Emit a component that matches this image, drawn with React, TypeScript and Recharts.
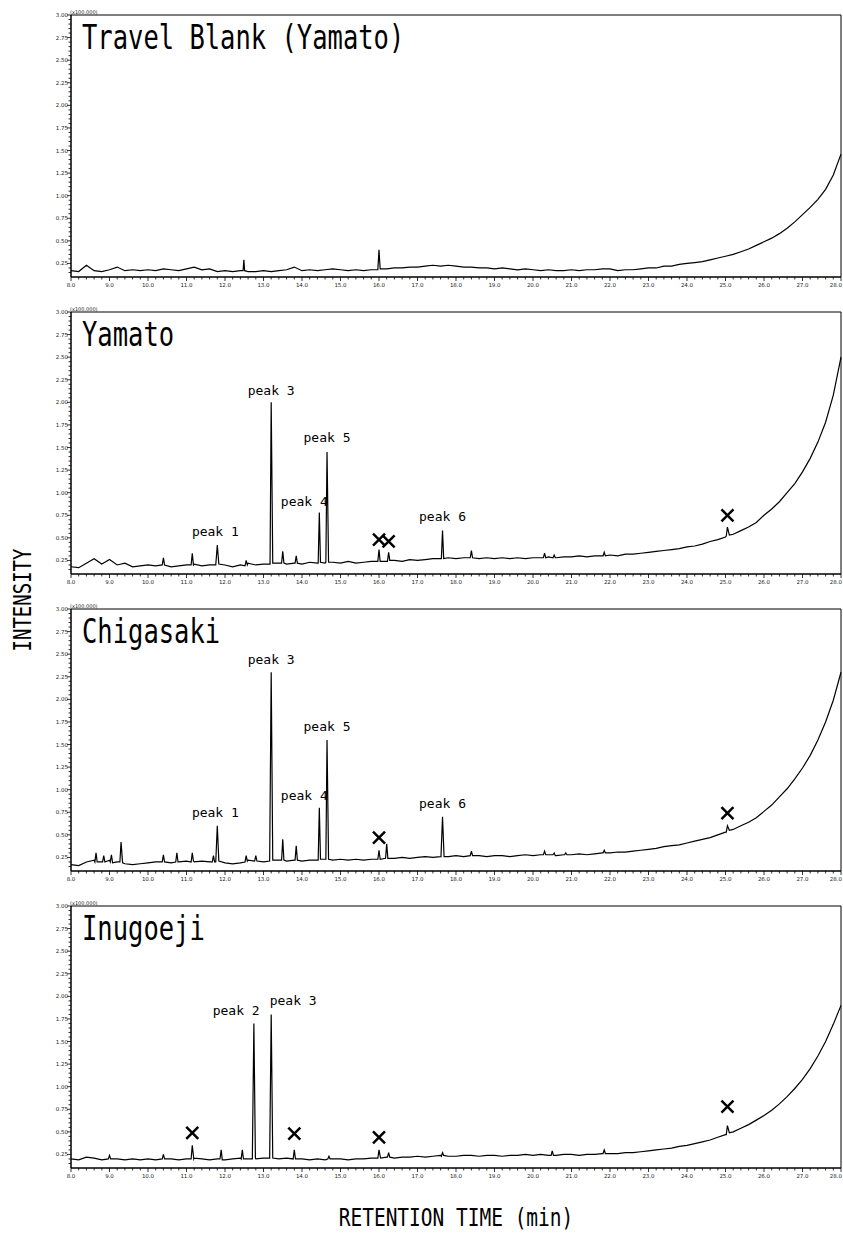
import React from 'react';
import { LineChart, Line, XAxis, YAxis, ReferenceArea, ReferenceDot } from 'recharts';

type Pt = [number, number];

// baselines are read every 0.2 min starting at 8.0 min
const RT_START = 8;
const RT_STEP = 0.2;

const X_MAJOR = [8, 9, 10, 11, 12, 13, 14, 15, 16, 17, 18, 19, 20, 21, 22, 23, 24, 25, 26, 27, 28];
const Y_MAJOR = [0.25, 0.5, 0.75, 1, 1.25, 1.5, 1.75, 2, 2.25, 2.5, 2.75, 3];

const PANEL_TITLES = ['Travel Blank (Yamato)', 'Yamato', 'Chigasaki', 'Inugoeji'];

// intensity (x100,000)
const BLANK_BASE = [
  0.17, 0.16, 0.23, 0.17, 0.16, 0.18, 0.21, 0.17, 0.18, 0.17,
  0.18, 0.17, 0.19, 0.18, 0.17, 0.19, 0.21, 0.18, 0.19, 0.16,
  0.17, 0.16, 0.17, 0.16, 0.16, 0.17, 0.16, 0.17, 0.18, 0.21,
  0.17, 0.18, 0.17, 0.18, 0.19, 0.18, 0.17, 0.18, 0.17, 0.18,
  0.18, 0.19, 0.2, 0.2, 0.21, 0.21, 0.22, 0.23, 0.22, 0.23,
  0.22, 0.21, 0.21, 0.2, 0.2, 0.19, 0.2, 0.19, 0.18, 0.19,
  0.18, 0.17, 0.18, 0.17, 0.17, 0.18, 0.17, 0.18, 0.18, 0.19,
  0.19, 0.17, 0.18, 0.18, 0.19, 0.2, 0.2, 0.22, 0.22, 0.24,
  0.25, 0.26, 0.27, 0.29, 0.31, 0.33, 0.35, 0.38, 0.41, 0.45,
  0.49, 0.53, 0.58, 0.64, 0.71, 0.79, 0.87, 0.96, 1.07, 1.23, 1.46,
];
const BLANK_PEAKS: Pt[][] = [
  [[12.47, 0.17], [12.49, 0.29], [12.51, 0.17]],
  [[15.97, 0.18], [16.0, 0.4], [16.03, 0.19]],
];

const YAMATO_BASE = [
  0.18, 0.17, 0.22, 0.27, 0.21, 0.26, 0.2, 0.22, 0.18, 0.19,
  0.2, 0.19, 0.2, 0.18, 0.19, 0.2, 0.21, 0.19, 0.2, 0.19,
  0.2, 0.18, 0.2, 0.22, 0.2, 0.21, 0.2, 0.22, 0.21, 0.22,
  0.21, 0.23, 0.22, 0.22, 0.23, 0.22, 0.24, 0.22, 0.23, 0.24,
  0.24, 0.24, 0.25, 0.24, 0.26, 0.25, 0.26, 0.27, 0.27, 0.28,
  0.27, 0.28, 0.29, 0.27, 0.28, 0.27, 0.28, 0.27, 0.28, 0.27,
  0.28, 0.28, 0.29, 0.28, 0.29, 0.29, 0.3, 0.29, 0.3, 0.3,
  0.31, 0.3, 0.32, 0.32, 0.33, 0.34, 0.35, 0.36, 0.37, 0.38,
  0.4, 0.41, 0.43, 0.46, 0.48, 0.51, 0.54, 0.58, 0.62, 0.67,
  0.75, 0.82, 0.9, 1.0, 1.1, 1.23, 1.38, 1.56, 1.78, 2.08, 2.5,
];
const YAMATO_PEAKS: Pt[][] = [
  [[10.37, 0.2], [10.4, 0.28], [10.43, 0.2]],
  [[11.12, 0.2], [11.15, 0.33], [11.18, 0.2]],
  [[11.76, 0.2], [11.8, 0.42], [11.84, 0.21]],
  [[12.52, 0.19], [12.55, 0.25], [12.58, 0.2]],
  [[13.17, 0.21], [13.2, 2.0], [13.24, 0.22]],
  [[13.47, 0.22], [13.5, 0.35], [13.53, 0.22]],
  [[13.82, 0.22], [13.85, 0.3], [13.88, 0.22]],
  [[14.42, 0.22], [14.45, 0.78], [14.48, 0.23]],
  [[14.62, 0.23], [14.65, 1.45], [14.69, 0.23]],
  [[15.97, 0.24], [16.0, 0.37], [16.03, 0.24]],
  [[16.22, 0.24], [16.25, 0.34], [16.28, 0.25]],
  [[17.62, 0.27], [17.65, 0.58], [17.68, 0.27]],
  [[18.37, 0.28], [18.4, 0.36], [18.43, 0.28]],
  [[20.27, 0.28], [20.3, 0.33], [20.33, 0.28]],
  [[20.52, 0.28], [20.55, 0.31], [20.58, 0.28]],
  [[21.82, 0.3], [21.85, 0.34], [21.88, 0.3]],
  [[25.02, 0.52], [25.05, 0.62], [25.1, 0.53]],
];

const CHIGASAKI_BASE = [
  0.17, 0.16, 0.2, 0.22, 0.2, 0.22, 0.2, 0.18, 0.17, 0.18,
  0.19, 0.2, 0.21, 0.19, 0.2, 0.21, 0.2, 0.21, 0.2, 0.2,
  0.19, 0.18, 0.19, 0.22, 0.21, 0.2, 0.21, 0.22, 0.21, 0.22,
  0.21, 0.22, 0.22, 0.23, 0.22, 0.23, 0.22, 0.23, 0.22, 0.23,
  0.23, 0.24, 0.24, 0.25, 0.24, 0.25, 0.26, 0.25, 0.26, 0.26,
  0.27, 0.26, 0.27, 0.27, 0.26, 0.27, 0.27, 0.26, 0.27, 0.28,
  0.27, 0.28, 0.28, 0.27, 0.28, 0.28, 0.29, 0.28, 0.29, 0.3,
  0.3, 0.31, 0.31, 0.32, 0.33, 0.34, 0.35, 0.37, 0.38, 0.39,
  0.41, 0.43, 0.45, 0.47, 0.5, 0.53, 0.56, 0.6, 0.64, 0.69,
  0.76, 0.83, 0.92, 1.01, 1.12, 1.24, 1.38, 1.55, 1.75, 1.99, 2.3,
];
const CHIGASAKI_PEAKS: Pt[][] = [
  [[8.62, 0.2], [8.65, 0.3], [8.68, 0.2]],
  [[8.82, 0.2], [8.85, 0.27], [8.88, 0.2]],
  [[9.02, 0.2], [9.05, 0.28], [9.08, 0.19]],
  [[9.27, 0.2], [9.3, 0.42], [9.34, 0.19]],
  [[10.37, 0.2], [10.4, 0.28], [10.43, 0.2]],
  [[10.72, 0.2], [10.75, 0.3], [10.78, 0.2]],
  [[11.12, 0.2], [11.15, 0.3], [11.18, 0.21]],
  [[11.67, 0.2], [11.7, 0.27], [11.73, 0.2]],
  [[11.76, 0.2], [11.8, 0.6], [11.84, 0.21]],
  [[12.52, 0.2], [12.55, 0.27], [12.58, 0.21]],
  [[12.77, 0.21], [12.8, 0.27], [12.83, 0.21]],
  [[13.16, 0.21], [13.2, 2.3], [13.24, 0.22]],
  [[13.47, 0.22], [13.5, 0.45], [13.53, 0.22]],
  [[13.82, 0.22], [13.85, 0.38], [13.88, 0.22]],
  [[14.42, 0.22], [14.45, 0.8], [14.48, 0.23]],
  [[14.62, 0.23], [14.65, 1.55], [14.69, 0.23]],
  [[15.97, 0.23], [16.0, 0.33], [16.03, 0.23]],
  [[16.17, 0.24], [16.2, 0.4], [16.23, 0.24]],
  [[17.61, 0.26], [17.65, 0.7], [17.69, 0.26]],
  [[18.37, 0.27], [18.4, 0.32], [18.43, 0.27]],
  [[20.27, 0.28], [20.3, 0.32], [20.33, 0.28]],
  [[20.52, 0.28], [20.55, 0.3], [20.58, 0.27]],
  [[20.82, 0.28], [20.85, 0.3], [20.88, 0.28]],
  [[21.82, 0.3], [21.85, 0.33], [21.88, 0.3]],
  [[25.02, 0.53], [25.05, 0.6], [25.1, 0.55]],
];

const INUGOEJI_BASE = [
  0.2, 0.19, 0.22, 0.21, 0.19, 0.22, 0.2, 0.19, 0.2, 0.19,
  0.2, 0.19, 0.21, 0.2, 0.19, 0.2, 0.21, 0.2, 0.19, 0.2,
  0.19, 0.2, 0.21, 0.2, 0.2, 0.21, 0.2, 0.2, 0.21, 0.2,
  0.2, 0.19, 0.2, 0.19, 0.2, 0.2, 0.19, 0.2, 0.2, 0.21,
  0.21, 0.22, 0.21, 0.22, 0.22, 0.23, 0.22, 0.23, 0.24, 0.23,
  0.23, 0.24, 0.24, 0.23, 0.24, 0.24, 0.23, 0.24, 0.24, 0.25,
  0.24, 0.25, 0.24, 0.24, 0.25, 0.25, 0.24, 0.25, 0.25, 0.26,
  0.26, 0.26, 0.27, 0.27, 0.28, 0.29, 0.3, 0.31, 0.32, 0.34,
  0.35, 0.37, 0.39, 0.41, 0.44, 0.47, 0.5, 0.54, 0.58, 0.63,
  0.68, 0.74, 0.81, 0.89, 0.98, 1.08, 1.2, 1.34, 1.5, 1.69, 1.9,
];
const INUGOEJI_PEAKS: Pt[][] = [
  [[8.97, 0.2], [9.0, 0.24], [9.03, 0.2]],
  [[10.37, 0.2], [10.4, 0.25], [10.43, 0.2]],
  [[11.12, 0.2], [11.15, 0.35], [11.19, 0.2]],
  [[11.87, 0.2], [11.9, 0.3], [11.93, 0.19]],
  [[12.42, 0.2], [12.45, 0.3], [12.48, 0.2]],
  [[12.71, 0.2], [12.75, 1.7], [12.79, 0.21]],
  [[13.16, 0.21], [13.2, 1.8], [13.24, 0.21]],
  [[13.77, 0.2], [13.8, 0.3], [13.83, 0.2]],
  [[14.67, 0.2], [14.7, 0.23], [14.73, 0.2]],
  [[15.97, 0.21], [16.0, 0.3], [16.04, 0.21]],
  [[16.22, 0.22], [16.25, 0.27], [16.28, 0.22]],
  [[17.62, 0.23], [17.65, 0.27], [17.68, 0.24]],
  [[20.47, 0.24], [20.5, 0.29], [20.53, 0.24]],
  [[21.82, 0.26], [21.85, 0.3], [21.88, 0.26]],
  [[25.02, 0.47], [25.05, 0.57], [25.1, 0.49]],
];

// peak names: [label, time of label centre, intensity of label centre]
const YAMATO_LABELS: [string, number, number][] = [
  ['peak 1', 11.75, 0.56],
  ['peak 3', 13.2, 2.13],
  ['peak 4', 14.06, 0.9],
  ['peak 5', 14.65, 1.6],
  ['peak 6', 17.65, 0.73],
];
const CHIGASAKI_LABELS: [string, number, number][] = [
  ['peak 1', 11.75, 0.74],
  ['peak 3', 13.2, 2.43],
  ['peak 4', 14.06, 0.93],
  ['peak 5', 14.65, 1.69],
  ['peak 6', 17.65, 0.84],
];
const INUGOEJI_LABELS: [string, number, number][] = [
  ['peak 2', 12.29, 1.84],
  ['peak 3', 13.77, 1.95],
];

// asterisk marks (x) over contaminant peaks
const YAMATO_MARKS: Pt[] = [[16.0, 0.48], [16.25, 0.46], [25.05, 0.75]];
const CHIGASAKI_MARKS: Pt[] = [[16.0, 0.47], [25.05, 0.74]];
const INUGOEJI_MARKS: Pt[] = [[11.15, 0.49], [13.8, 0.48], [16.0, 0.44], [25.05, 0.78]];

const X_TICKS = Array.from({ length: 101 }, (_, i) => Math.round((8 + 0.2 * i) * 10) / 10);
const Y_TICKS = Array.from({ length: 58 }, (_, i) => Math.round((0.15 + 0.05 * i) * 100) / 100);

const buildSeries = (base: number[], peaks: Pt[][]) => {
  const pts: Pt[] = [];
  base.forEach((v, i) => {
    const t = Math.round((RT_START + RT_STEP * i) * 10) / 10;
    const inPeak = peaks.some(p => t >= p[0][0] && t <= p[p.length - 1][0]);
    if (!inPeak) pts.push([t, v]);
  });
  peaks.forEach(p => pts.push(...p));
  pts.sort((a, b) => a[0] - b[0]);
  return pts.map(([t, v]) => ({ t, v }));
};

const PANELS = [
  { data: buildSeries(BLANK_BASE, BLANK_PEAKS), labels: [], marks: [] },
  { data: buildSeries(YAMATO_BASE, YAMATO_PEAKS), labels: YAMATO_LABELS, marks: YAMATO_MARKS },
  { data: buildSeries(CHIGASAKI_BASE, CHIGASAKI_PEAKS), labels: CHIGASAKI_LABELS, marks: CHIGASAKI_MARKS },
  { data: buildSeries(INUGOEJI_BASE, INUGOEJI_PEAKS), labels: INUGOEJI_LABELS, marks: INUGOEJI_MARKS },
];

const PLOT_TOP = 15;
const PANEL_STEP = 297;
const MONO = '"DejaVu Sans Mono", monospace';
const SANS = '"DejaVu Sans", sans-serif';

const XTick = (props: any) => {
  const { x, y, payload } = props;
  const v = payload.value as number;
  const major = X_MAJOR.includes(v);
  const last = v === X_MAJOR[X_MAJOR.length - 1];
  return (
    <g>
      <line x1={x} x2={x} y1={y} y2={y + (major ? 4 : 2.5)} stroke="#000" strokeWidth={0.8} />
      {major && (
        <text x={last ? x + 1 : x} y={y + 10} textAnchor={last ? 'end' : 'middle'} fontSize={5.5} fontFamily={SANS} fill="#222">
          {v.toFixed(1)}
        </text>
      )}
    </g>
  );
};

const YTick = (props: any) => {
  const { x, y, payload } = props;
  const v = payload.value as number;
  const major = Y_MAJOR.some(m => Math.abs(m - v) < 1e-6);
  return (
    <g>
      <line x1={x} x2={x - (major ? 4 : 2.5)} y1={y} y2={y} stroke="#000" strokeWidth={0.8} />
      {major && (
        <text x={x - 3} y={y + 2} textAnchor="end" fontSize={5.5} fontFamily={SANS} fill="#222">
          {v.toFixed(2)}
        </text>
      )}
    </g>
  );
};

const XMark = (props: any) => {
  const { cx, cy } = props;
  const s = 6;
  return (
    <g stroke="#000" strokeWidth={2.5}>
      <line x1={cx - s} y1={cy - s} x2={cx + s} y2={cy + s} />
      <line x1={cx - s} y1={cy + s} x2={cx + s} y2={cy - s} />
    </g>
  );
};

function Panel({ index }: { index: number }) {
  const p = PANELS[index];
  return (
    <div style={{ position: 'absolute', left: 0, top: index * PANEL_STEP, width: 843, height: 290 }}>
      <LineChart width={843} height={290} data={p.data} margin={{ top: PLOT_TOP, right: 2, bottom: 0, left: 0 }}>
        <XAxis
          dataKey="t"
          type="number"
          domain={[8, 28]}
          ticks={X_TICKS}
          interval={0}
          height={13}
          tickSize={0}
          tickMargin={0}
          tickLine={false}
          axisLine={{ stroke: '#000' }}
          tick={<XTick />}
        />
        <YAxis
          type="number"
          domain={[0.1, 3]}
          ticks={Y_TICKS}
          interval={0}
          width={71}
          tickSize={0}
          tickMargin={0}
          tickLine={false}
          axisLine={{ stroke: '#000' }}
          tick={<YTick />}
        />
        <ReferenceArea x1={8} x2={28} y1={0.1} y2={3} fill="none" stroke="#000" strokeWidth={1} />
        <Line
          dataKey="v"
          type="linear"
          stroke="#000"
          strokeWidth={1.2}
          dot={false}
          isAnimationActive={false}
        />
        {p.marks.map(([t, v], i) => (
          <ReferenceDot key={'m' + i} x={t} y={v} r={0} shape={XMark} />
        ))}
        {p.labels.map(([text, t, v], i) => (
          <ReferenceDot
            key={'l' + i}
            x={t}
            y={v}
            r={0}
            shape={(sp: any) => (
              <text x={sp.cx} y={sp.cy + 4} textAnchor="middle" fontSize={13} fontFamily={MONO} fill="#000">
                {text}
              </text>
            )}
          />
        ))}
      </LineChart>
    </div>
  );
}

export default function App() {
  return (
    <div style={{ position: 'absolute', left: 0, top: 0, width: 843, height: 1236, background: '#fff' }}>
      {PANELS.map((_, i) => (
        <Panel key={i} index={i} />
      ))}
      <svg width={843} height={1236} style={{ position: 'absolute', left: 0, top: 0, pointerEvents: 'none' }}>
        {PANEL_TITLES.map((title, i) => {
          const top = PLOT_TOP + i * PANEL_STEP;
          return (
            <g key={i}>
              <text
                transform={`translate(82, ${top + 34}) scale(1, 1.3)`}
                fontSize={25.5}
                fontFamily={MONO}
                fill="#000"
                xmlSpace="preserve"
              >
                {title}
              </text>
              <text x={70} y={top - 1.5} fontSize={5} fontFamily={SANS} fill="#222">
                (x100,000)
              </text>
            </g>
          );
        })}
        <text
          transform="translate(31, 600) rotate(-90) scale(1, 1.3)"
          textAnchor="middle"
          fontSize={19}
          fontFamily={MONO}
          fill="#000"
        >
          INTENSITY
        </text>
        <text
          transform="translate(456, 1226) scale(1, 1.27)"
          textAnchor="middle"
          fontSize={19.5}
          fontFamily={MONO}
          fill="#000"
          xmlSpace="preserve"
        >
          RETENTION TIME (min)
        </text>
      </svg>
    </div>
  );
}
